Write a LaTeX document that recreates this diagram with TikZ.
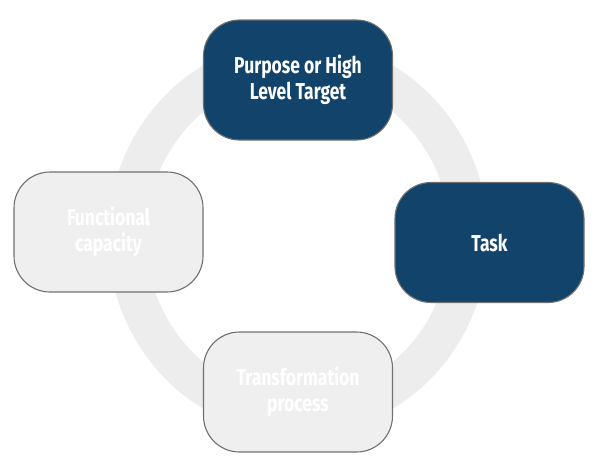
\documentclass[tikz,border=0pt]{standalone}
\usepackage{fontspec}
\newfontfamily\osw[FakeStretch=0.76]{Fira Sans}
\definecolor{navy}{HTML}{12436A}
\definecolor{ringgray}{HTML}{EDEDED}
\definecolor{lightbox}{HTML}{EFEFEF}
\definecolor{edgegray}{HTML}{707070}
\tikzset{
  box/.style={rectangle, rounded corners=36pt, minimum width=189pt, minimum height=120pt,
    draw=edgegray, line width=1.1pt, align=center, text=white,
    font=\osw\bfseries\fontsize{23pt}{26pt}\selectfont},
  darkbox/.style={box, fill=navy},
  greybox/.style={box, fill=lightbox},
}
\begin{document}
\begin{tikzpicture}[x=1pt,y=1pt]
\useasboundingbox (0,0) rectangle (596,-474);
\fill[white] (0,0) rectangle (596,-474);
\draw[ringgray, line width=38pt] (298,-237) ellipse [x radius=171, y radius=179];
\node[darkbox] (purpose) at (298,-80) {Purpose or High\\Level Target};
\node[darkbox] (task) at (489.5,-242.5) {Task};
\node[greybox] (transf) at (298,-392) {Transformation\\process};
\node[greybox] (func) at (108.5,-232) {Functional\\capacity};
\end{tikzpicture}
\end{document}
